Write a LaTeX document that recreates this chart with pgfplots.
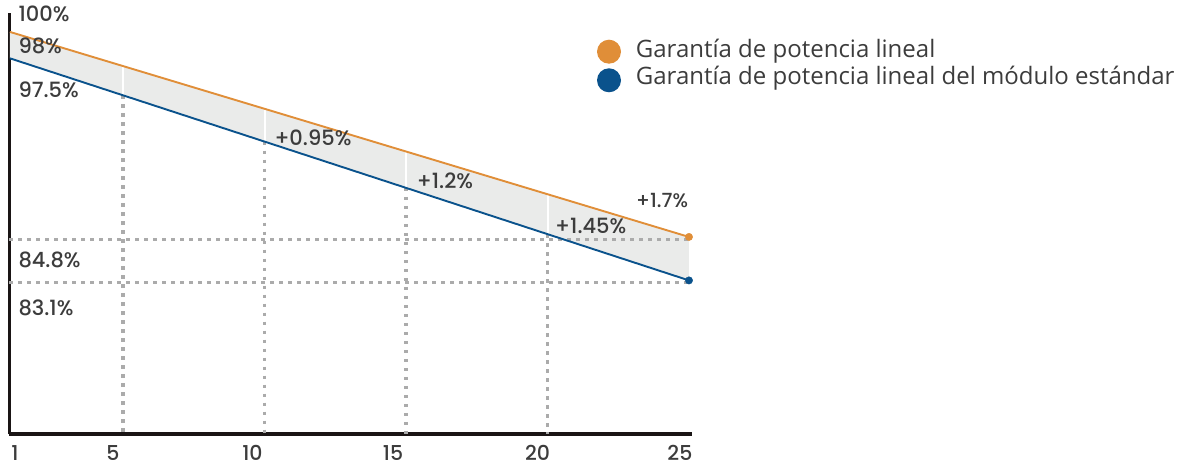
\documentclass[border=0pt]{standalone}
\usepackage{pgfplots}
\pgfplotsset{compat=1.18}
\usepackage{fontspec}
\setmainfont{Poppins}[UprightFont=* Medium]
\newfontfamily\legfont{Open Sans}
\definecolor{orng}{RGB}{224,142,56}
\definecolor{blu}{RGB}{10,82,140}
\definecolor{band}{RGB}{234,235,234}
\definecolor{dotg}{RGB}{171,171,171}
\definecolor{txt}{RGB}{60,60,60}
\definecolor{axk}{RGB}{26,21,21}
\begin{document}
\begin{tikzpicture}
\useasboundingbox (0,0) rectangle (1178pt,466pt);
\begin{axis}[
  at={(9.4pt,32pt)}, anchor=south west,
  scale only axis, width=682.4pt, height=420.7pt,
  xmin=0.98, xmax=25.1, ymin=72.11, ymax=99.2,
  axis x line*=bottom, axis y line*=left,
  x axis line style={line width=4pt, color=axk},
  y axis line style={line width=3pt, color=axk},
  ytick=\empty,
  xtick={1.18,4.64,9.57,14.54,19.65,24.68},
  xticklabels={1,5,10,15,20,25},
  major tick length=0pt,
  xticklabel style={anchor=center, inner sep=0pt, yshift=-19pt, font=\fontsize{20.5}{22}\selectfont, text=txt},
  clip=false,
]
% band between the two lines
\addplot[fill=band, draw=none] coordinates {(1,98) (25,84.8) (25,82.0) (1,96.3)} -- cycle;
% horizontal dotted lines
\addplot[dotg, line width=3.5pt, dash pattern=on 3.5pt off 5.5pt] coordinates {(0.98,84.65) (25,84.65)};
\addplot[dotg, line width=3.5pt, dash pattern=on 3.5pt off 5.5pt] coordinates {(0.98,81.85) (25,81.85)};
% vertical dotted lines below standard line
\addplot[dotg, line width=3.5pt, dash pattern=on 3.5pt off 5.5pt] coordinates {(5,93.92) (5,72.11)};
\addplot[dotg, line width=3.5pt, dash pattern=on 3.5pt off 5.5pt] coordinates {(10,90.94) (10,72.11)};
\addplot[dotg, line width=3.5pt, dash pattern=on 3.5pt off 5.5pt] coordinates {(15,87.96) (15,72.11)};
\addplot[dotg, line width=3.5pt, dash pattern=on 3.5pt off 5.5pt] coordinates {(20,84.98) (20,72.11)};
% white separators inside the band
\addplot[white, line width=2pt] coordinates {(5,95.8) (5,93.92)};
\addplot[white, line width=2pt] coordinates {(10,93.05) (10,90.94)};
\addplot[white, line width=2pt] coordinates {(15,90.3) (15,87.96)};
\addplot[white, line width=2pt] coordinates {(20,87.55) (20,84.98)};
% lines
\addplot[orng, line width=1.9pt] coordinates {(1,98) (25,84.8)};
\addplot[blu, line width=1.9pt] coordinates {(1,96.3) (25,82.0)};
\addplot[only marks, mark=*, mark size=3.7pt, orng] coordinates {(25,84.8)};
\addplot[only marks, mark=*, mark size=3.7pt, blu] coordinates {(25,82.0)};
\end{axis}
% value labels
\begin{scope}[every node/.style={anchor=west, inner sep=0pt, text=txt, font=\fontsize{21}{23}\selectfont}]
\node at (18.3pt,452.2pt) {100\%};
\node at (18.3pt,420pt) {98\%};
\node at (18.3pt,376.5pt) {97.5\%};
\node at (18.3pt,206pt) {84.8\%};
\node at (18.3pt,158.3pt) {83.1\%};
\node at (274.3pt,328.2pt) {+0.95\%};
\node at (416.7pt,285.2pt) {+1.2\%};
\node at (555pt,240.3pt) {+1.45\%};
\node[font=\fontsize{19.5}{21}\selectfont] at (636pt,265pt) {+1.7\%};
\end{scope}
% legend
\fill[orng] (609pt,414.3pt) circle (12pt);
\fill[blu] (609pt,385.7pt) circle (12pt);
\node[anchor=base west, inner sep=0pt, text=txt, font=\legfont\fontsize{24}{28}\selectfont] at (635.7pt,408.7pt) {Garantía de potencia lineal};
\node[anchor=base west, inner sep=0pt, text=txt, font=\legfont\fontsize{24}{28}\selectfont] at (635.7pt,381pt) {Garantía de potencia lineal del módulo estándar};
\end{tikzpicture}
\end{document}
